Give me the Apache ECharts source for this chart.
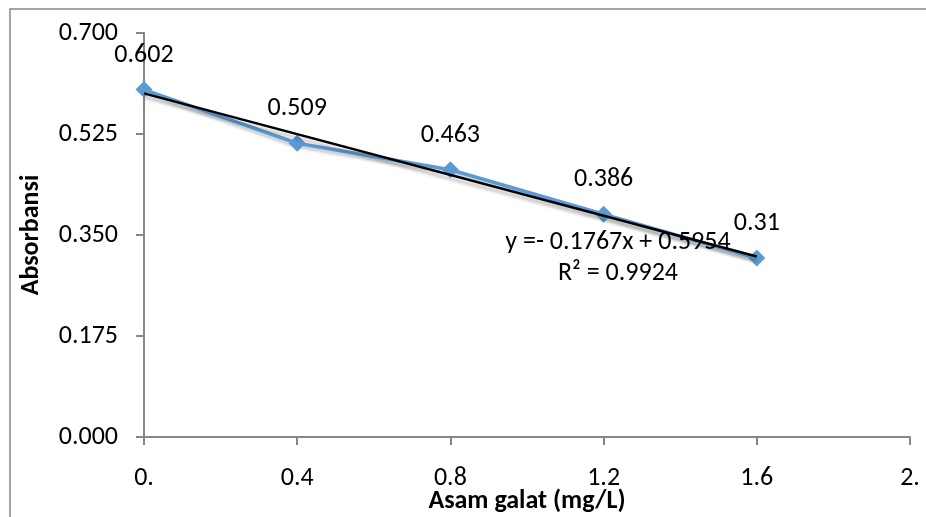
<!DOCTYPE html>
<html>
<head>
<meta charset="utf-8">
<script src="https://cdn.jsdelivr.net/npm/echarts@6/dist/echarts.min.js"></script>
<style>
html,body{margin:0;padding:0;background:#fff;overflow:hidden;}
#chart{width:926px;height:517px;}
</style>
</head>
<body>
<div id="chart"></div>
<script>
// Data
var xValues = [0, 0.4, 0.8, 1.2, 1.6];
var absorbance = [0.602, 0.509, 0.463, 0.386, 0.31];
var trendX = [0, 1.6];
var trendY = [0.5954, 0.3127];
var xTickLabels = ['0.', '0.4', '0.8', '1.2', '1.6', '2.'];
var yTickLabels = ['0.000', '0.175', '0.350', '0.525', '0.700'];
var equationText = 'y =- 0.1767x + 0.5954';
var r2Text = 'R\u00B2 = 0.9924';
var xTitle = 'Asam galat (mg/L)';
var yTitle = 'Absorbansi';

var FONT = 'Carlito, Calibri, Lato, sans-serif';
var AXIS_COLOR = '#868686';

var chart = echarts.init(document.getElementById('chart'), null, {renderer: 'canvas', width: 926, height: 517});

var seriesData = xValues.map(function (x, i) { return [x, absorbance[i]]; });
var trendData = trendX.map(function (x, i) { return [x, trendY[i]]; });

var option = {
  backgroundColor: '#ffffff',
  animation: false,
  grid: {left: 144, top: 33, width: 766, height: 404, containLabel: false, outerBoundsMode: 'none'},
  xAxis: {
    type: 'value', min: 0, max: 2, interval: 0.4,
    name: xTitle, nameLocation: 'middle', nameGap: 51, nameMoveOverlap: false,
    nameTextStyle: {fontFamily: FONT, fontWeight: 'bold', fontSize: 26, color: '#000'},
    axisLine: {show: true, lineStyle: {color: AXIS_COLOR, width: 2}},
    axisTick: {show: true, length: 8, lineStyle: {color: AXIS_COLOR, width: 2}},
    axisLabel: {
      margin: 28, fontFamily: FONT, fontSize: 26, color: '#000',
      formatter: function (v, i) { return xTickLabels[Math.round(v / 0.4)]; }
    },
    splitLine: {show: false}
  },
  yAxis: {
    type: 'value', min: 0, max: 0.7, interval: 0.175,
    name: yTitle, nameLocation: 'middle', nameGap: 100, nameRotate: 90, nameMoveOverlap: false,
    nameTextStyle: {fontFamily: FONT, fontWeight: 'bold', fontSize: 26, color: '#000'},
    axisLine: {show: true, lineStyle: {color: AXIS_COLOR, width: 2}},
    axisTick: {show: true, length: 8, lineStyle: {color: AXIS_COLOR, width: 2}},
    axisLabel: {
      margin: 26, fontFamily: FONT, fontSize: 26, color: '#000',
      formatter: function (v) { return yTickLabels[Math.round(v / 0.175)]; }
    },
    splitLine: {show: false}
  },
  series: [
    {
      type: 'line', data: seriesData, symbol: 'diamond', symbolSize: 17,
      itemStyle: {color: '#5B9BD5'},
      lineStyle: {color: '#5B9BD5', width: 3.5, shadowColor: 'rgba(0,0,0,0.22)', shadowBlur: 3, shadowOffsetY: 3},
      label: {
        show: true, position: 'top', distance: 13,
        fontFamily: FONT, fontSize: 26, color: '#000',
        formatter: function (p) { return String(p.value[1]); }
      },
      z: 2
    },
    {
      type: 'line', data: trendData, symbol: 'none',
      lineStyle: {color: '#000', width: 2.5, shadowColor: 'rgba(0,0,0,0.25)', shadowBlur: 3, shadowOffsetY: 4},
      z: 3
    }
  ],
  graphic: [
    {type: 'rect', shape: {x: 10, y: 9, width: 2000, height: 2000}, style: {fill: 'none', stroke: AXIS_COLOR, lineWidth: 1.5}, z: -1, silent: true},
    {type: 'text', x: 618, y: 242, style: {text: equationText, font: '26px ' + FONT, fill: '#000', align: 'center', verticalAlign: 'middle'}, z: 10},
    {type: 'text', x: 618, y: 273, style: {text: r2Text, font: '26px ' + FONT, fill: '#000', align: 'center', verticalAlign: 'middle'}, z: 10}
  ]
};
chart.setOption(option);
</script>
</body>
</html>
